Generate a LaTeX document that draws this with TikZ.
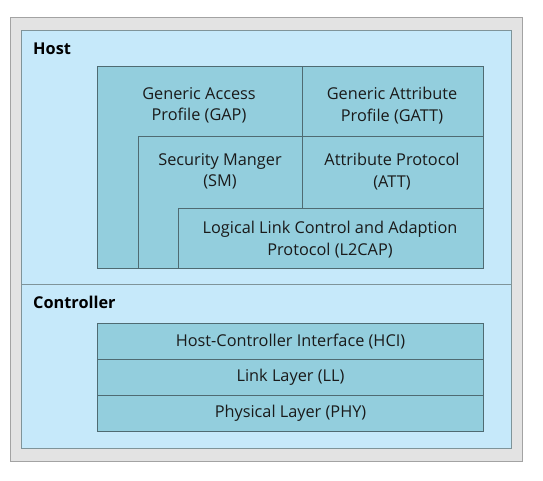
\documentclass[tikz,border=0pt]{standalone}
\usepackage{fontspec}
\setmainfont{Open Sans}
\definecolor{outerfill}{HTML}{E3E3E3}
\definecolor{outerline}{HTML}{A3A3A3}
\definecolor{panelfill}{HTML}{C6E9FA}
\definecolor{panelline}{HTML}{7F9499}
\definecolor{boxfill}{HTML}{93CEDD}
\definecolor{boxline}{HTML}{4F6B72}
\definecolor{txt}{HTML}{1A1A1A}
\tikzset{
  layerbox/.style={draw=boxline, fill=boxfill, line width=1pt},
  lbl/.style={text=txt, font=\fontsize{16.3}{21.5}\selectfont, align=center, inner sep=0pt},
  title/.style={text=black, font=\bfseries\fontsize{16.3}{18}\selectfont, anchor=west, inner sep=0pt}
}
\begin{document}
\begin{tikzpicture}[x=1pt,y=-1pt]
\useasboundingbox (0,0) rectangle (543,480);
% outer frame
\draw[fill=outerfill, draw=outerline, line width=1pt] (10,17) rectangle (522,461);
\draw[fill=panelfill, draw=panelline, line width=1pt] (21,30) rectangle (511,448);
\draw[draw=panelline, line width=1pt] (21,284) -- (511,284);
% Host stack
\node[layerbox, minimum width=386pt, minimum height=202pt, anchor=north west, inner sep=0pt] (gap) at (97,66) {};
\node[layerbox, minimum width=181pt, minimum height=70pt, anchor=north west, inner sep=0pt] (gatt) at (302,66) {};
\node[layerbox, minimum width=345pt, minimum height=132pt, anchor=north west, inner sep=0pt] (sm) at (138,136) {};
\node[layerbox, minimum width=181pt, minimum height=72pt, anchor=north west, inner sep=0pt] (att) at (302,136) {};
\node[layerbox, minimum width=305pt, minimum height=60pt, anchor=north west, inner sep=0pt] (l2cap) at (178,208) {};
\node[lbl] (gapt) at (199,105.5) {Generic Access\\Profile (GAP)};
\node[lbl] (gattt) at (392,105.5) {Generic Attribute\\Profile (GATT)};
\node[lbl] (smt) at (220,171.5) {Security Manger\\(SM)};
\node[lbl] (attt) at (392,171.5) {Attribute Protocol\\(ATT)};
\node[lbl] (l2capt) at (330,239.5) {Logical Link Control and Adaption\\Protocol (L2CAP)};
% Controller stack
\node[layerbox, minimum width=386pt, minimum height=36pt, anchor=north west, inner sep=0pt] (hci) at (97,323) {};
\node[layerbox, minimum width=386pt, minimum height=36pt, anchor=north west, inner sep=0pt] (ll) at (97,359) {};
\node[layerbox, minimum width=386pt, minimum height=36pt, anchor=north west, inner sep=0pt] (phy) at (97,395) {};
\node[lbl] at (hci.center) {Host-Controller Interface (HCI)};
\node[lbl] at (ll.center) {Link Layer (LL)};
\node[lbl] at (phy.center) {Physical Layer (PHY)};
% titles
\node[title] (host) at (33,49) {Host};
\node[title] (ctrl) at (33,302) {Controller};
\end{tikzpicture}
\end{document}
